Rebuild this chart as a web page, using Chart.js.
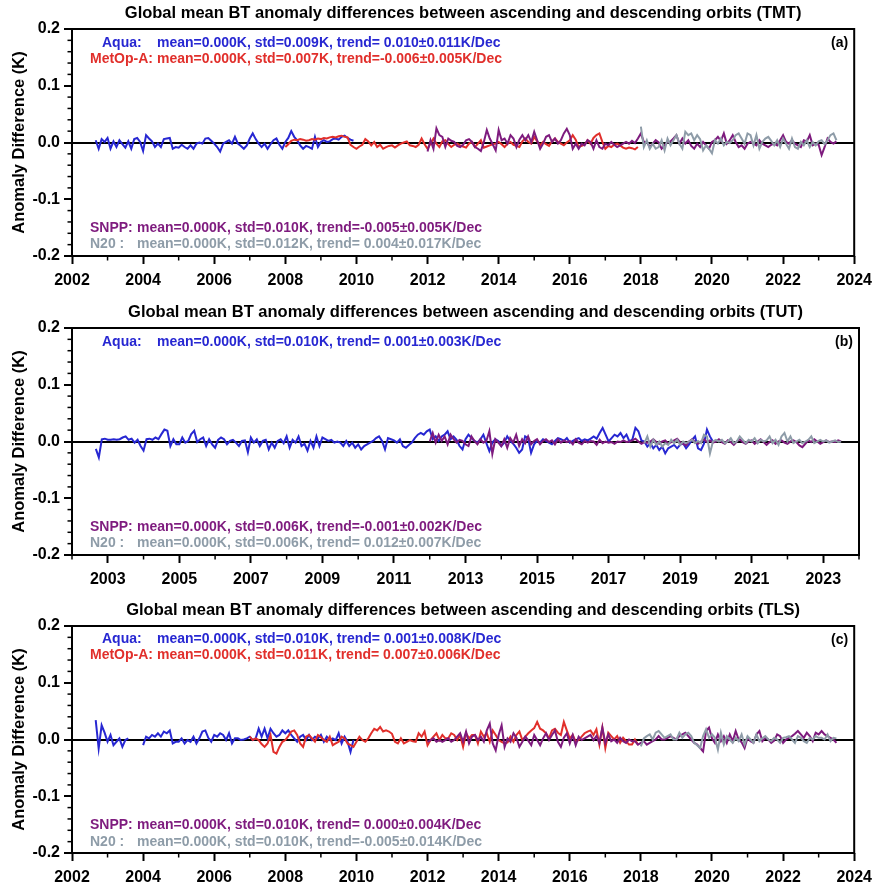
<!DOCTYPE html>
<html><head><meta charset="utf-8">
<script src="https://cdn.jsdelivr.net/npm/chart.js@4.4.1/dist/chart.umd.min.js"></script>
<style>
html,body{margin:0;padding:0;background:#fff;overflow:hidden;width:879px;height:886px}
.p{position:absolute;left:0;width:879px;height:289px}
</style></head><body>
<div class="p" style="top:0"><canvas id="ca" width="879" height="289"></canvas></div>
<div class="p" style="top:299px"><canvas id="cb" width="879" height="289"></canvas></div>
<div class="p" style="top:597px"><canvas id="cc" width="879" height="289"></canvas></div>
<script>
// ---- tick labels / axis ----
const xTicksEven = [2002,2004,2006,2008,2010,2012,2014,2016,2018,2020,2022,2024];
const xTicksOdd  = [2003,2005,2007,2009,2011,2013,2015,2017,2019,2021,2023];
const xMinorEvenEdges = [2002,2004,2006,2008,2010,2012,2014,2016,2018,2020,2022,2024];
const yTicks = [-0.2,-0.1,0,0.1,0.2];
const yMinor = [-0.18,-0.16,-0.14,-0.12,-0.08,-0.06,-0.04,-0.02,0.02,0.04,0.06,0.08,0.12,0.14,0.16,0.18];

// ---- series values, monthly, in milli-Kelvin (1 mK = 0.001 K) ----
// Panel (a) TMT
const aquaTMTStart = [2002, 9];
const aquaTMT = [4,-11,6,1,8,-11,2,-8,4,-3, -9,2,-11,6,8,1,-15,13,7,2, -8,-2,-8,6,7,8,-11,-8,-9,-4, -8,-11,-5,-11,-2,0,-2,7,8,3, -2,-8,-16,-2,1,4,-2,10,-2,-6, -11,-5,7,16,6,-2,-8,-2,-11,-3, 4,7,-4,-11,1,8,20,10,4,-5, -11,-6,-8,-11,10,-8,1,4,1, 2,6,7,5, 10,12,8,5,3];
const metopTMTStart = [2008, 1];
const metopTMT = [-8,-3,3,5,4,6,5,3,4,6,5,7, 6,8,7,9,10,9,11,12,10,9,-4,-8, -11,-7,-4,6,2,-5,1,-8,-4,-11,-8,-6, -5,-9,-5,-2,0,2,-5,-6,-8,-4,7,-3, -11,-2,7,-2,-8,2,4,-3,-8,-4,-2,-5, -7,-9,-2,1,-8,-2,4,-9,-7,-5,-3,-2, 1,-3,-8,-2,1,-4,-6,-8,2,7,1,-2, 10,2,-5,1,-3,-6,2,7,1,-2,-5,0, 4,13,5,-8,-6,-4,4,-2,8,13,16,1, -11,-6,-8,-4,-2,-5,-9,-11,-9,-10,-12,-8];
const snppTMTStart = [2012, 1];
const snppTMT = [-16,4,-11,25,13,10,-8,7,3,1,-6,-8, -4,4,6,1,-8,-11,-15,1,22,7,-3,-14, 22,4,7,-2,13,7,-8,5,13,4,13,1, 19,4,-11,-2,10,13,1,7,-2,4,16,24, 13,-11,-2,-11,-2,-5,4,1,-11,4,-8,-11, -2,-5,1,-4,-8,-5,-2,1,-2,3,-1,7, 16,1,1,-8,-2,4,0,-11,-5,1,2,7, 13,-2,7,-2,4,-6,-11,-2,-8,1,-5,-11, 1,4,10,3,16,-2,4,13,1,-8,-5,-11, -2,1,-2,-5,4,-2,-5,-8,-4,-2,-5,4, 13,1,-2,4,-2,-5,-8,4,2,13,-5,-2, -4,-22,-8,7,1,-2,2];
const n20TMTStart = [2018, 1];
const n20TMT = [28,-8,4,-11,-2,-11,-8,4,-14,7,-5,4, 13,-2,-11,19,13,16,4,13,6,-14,-5,-11, -19,4,-2,7,-5,1,-1,4,13,16,7,-2, 16,13,-5,13,-11,1,7,10,3,-5,4,-8, 7,-2,-11,7,-8,-11,1,-5,4,-8,1,-5, 2,4,-3,4,13,16,4];

// Panel (b) TUT
const aquaTUTStart = [2002, 9];
const aquaTUT = [-13,-28,4,5, 3,3,4,3,4,7,9,3,5,-2,3,-8, -16,4,5,3,7,4,13,21,19,-8,4,-5, -5,7,-2,1,13,19,-1,4,7,-8,4,-5, -11,3,7,4,-5,1,3,-2,-8,1,2,-19, 7,-2,4,-8,1,3,-14,-2,-11,1,4,-3, 9,-11,3,-2,9,-8,-4,-16,1,-11,9,-8, 7,4,1,3,-2,0,-2,-8,1,-8,-2,-11, -5,-14,-8,-5,-2,1,6,9,1,-14,6,4, 2,-2,4,-8,-11,-6,-2,6,12,15,12,18, 21,4,9,1,9,12,18,4,9,3,-8,-14, 4,12,6,1,-2,4,12,-3,-17,-2,4,1, -8,-2,9,1,-4,-11,-20,-14,9,6,-20,-5, 1,-2,4,1,-2,-5,1,6,4,1,6,-2, 1,4,6,1,4,2,5,9,5,15,24,12, 0,6,12,9,15,6,12,0,4,24,18,2, 0,-9,-3,-12,-6,-15,-9,-21,-12,-9,-6,-12, -6,-3,-12,-5,3,9,-12,-15,-4,21,9,0];
const snppTUTStart = [2012, 1];
const snppTUT = [0,15,-2,12,1,9,-5,12,4,-2,3,1, -5,-8,9,1,-5,4,-2,1,18,-22,4,-2, -8,4,-11,6,-2,12,-8,4,-3,9,-5,1, 4,-5,1,4,-1,2,-5,4,-2,2,-1,1, -5,4,-2,-5,1,-2,1,0,-6,3,-3,0, -2,-1,-4,0,-1,2,-1,0,2,5,0,-4, -1,-2,0,4,-1,-4,0,2,-4,-1,2,5, -1,-4,-7,0,4,-1,-4,0,4,-1,2,-2, 0,4,-1,-4,2,-1,-6,0,4,-1,-4,0, 2,-4,0,4,-1,-6,-1,2,-4,0,2,-2, -4,0,2,-1,-7,-10,-4,2,-1,4,0,-4, -1,2,-1,0,-1,2,0];
const n20TUTStart = [2018, 1];
const n20TUT = [-3,9,-9,3,-6,0,-9,-3,-6,3,-3,3, -6,0,-3,0,3,-3,1,-3,12,9,-21,0, 3,0,3,-3,0,6,-3,0,9,3,-3,3, 0,6,-3,3,0,2,9,-3,3,-6,9,15, 0,9,-3,0,3,-3,0,3,9,-3,0,3, 0,2,-2,0,2,-1,0];

// Panel (c) TLS
const aquaTLSStart = [2002, 9];
const aquaTLS = [34,-16,25,12, -4,8,-10,-4,2,-13,-1,2,null,null,null,null, -10,5,2,8,5,11,5,14,11,16,-7,-4, -4,2,-7,-1,-4,5,-7,2,14,16,3,-4, 8,5,11,8,-1,11,-7,2,2,-1,0,2, 5,-1,2,19,5,19,2,19,11,5,8,16, 11,16,8,2,-4,5,8,-1,8,-1,5,2, 8,-4,5,-1,2,-1,11,-7,5,-4,-22,-1];
const metopTLSStart = [2007, 1];
const metopTLS = [5,-1,2,-1,-8,-13,-7,8,-22,-25,-13,-4, -1,6,14,16,8,-7,-13,5,8,2,-4,8, 4,-1,-4,5,-10,-7,-4,5,2,-7,-10,-13, -4,5,-1,-4,2,11,19,16,22,14,16,14, 10,-4,-7,2,-7,-4,-1,-3,-4,11,5,14, -10,-1,5,11,-1,8,2,2,11,8,-1,8, -13,11,2,8,8,-7,14,5,11,-4,16,8, -1,-4,-7,-5,5,-4,8,14,-1,5,11,16, 20,31,19,16,11,2,16,19,12,8,31,16, 2,8,-4,-1,5,11,14,16,8,18,-9,21, -15,12,6,0,6,-6,3,-3,-9,-9,0,-9];
const snppTLSStart = [2012, 1];
const snppTLS = [-4,-1,2,-4,-1,-4,-1,2,-4,-1,5,11, -4,14,-7,5,8,-1,5,-4,16,28,-7,-19, 8,25,-13,2,-4,11,3,-13,-4,5,-2,-10, 8,-1,-10,2,11,-1,8,16,-4,-13,3,11, -7,8,-10,5,-1,2,5,8,-1,6,-6,21, -6,9,-3,0,-6,3,-3,-6,0,-3,-3,-9, -6,-3,-9,-6,-3,0,6,0,0,3,6,3, 0,6,9,12,6,0,-6,-9,-15,-21,15,21, 2,-6,9,-3,6,-6,9,-3,15,0,-5,-15, 3,-3,-6,9,15,-3,3,0,-6,-2,9,6, -6,0,3,6,10,15,9,3,12,6,-3,12, 9,15,9,6,3,0,-6];
const n20TLSStart = [2018, 1];
const n20TLS = [-12,2,6,9,0,12,15,9,3,6,9,0, 0,12,3,9,12,6,-6,-10,-15,6,18,3, 9,3,-18,12,-9,6,0,-6,3,-3,9,-9, 6,0,-6,9,-3,2,6,0,-3,3,0,-6, 3,4,6,0,-6,6,3,-3,-6,3,0,6, 3,3,0,9,-3,3,2];

// ---- styles ----
const F = "'Liberation Sans', Arial, Helvetica, sans-serif";
const BLUE = '#2727d2', RED = '#e12f2b', PURPLE = '#7e1b7e', GRAY = '#8e9ca8';

function toPoints(start, vals) {
  return vals.map((v, i) => ({ x: start[0] + (start[1] - 1 + i) / 12, y: v === null ? null : v / 1000 }));
}

function makeDeco(cfg) {
  return {
    id: 'deco',
    afterDraw(chart) {
      const ctx = chart.ctx, a = chart.chartArea, xs = chart.scales.x, ys = chart.scales.y;
      ctx.save();
      ctx.strokeStyle = '#000';
      ctx.lineWidth = 1.5;
      cfg.minorX.forEach(v => {
        const px = xs.getPixelForValue(v);
        ctx.beginPath(); ctx.moveTo(px, a.bottom); ctx.lineTo(px, a.bottom + 4.5); ctx.stroke();
      });
      yMinor.forEach(v => {
        const py = ys.getPixelForValue(v);
        ctx.beginPath(); ctx.moveTo(a.left, py); ctx.lineTo(a.left - 4.5, py); ctx.stroke();
      });
      ctx.lineWidth = 2;
      ctx.strokeRect(a.left, a.top, a.right - a.left, a.bottom - a.top);
      ctx.fillStyle = '#000';
      ctx.textBaseline = 'middle';
      ctx.textAlign = 'center';
      ctx.font = 'bold 16.5px ' + F;
      ctx.fillText(cfg.title, (a.left + a.right) / 2, a.top - 16);
      ctx.save();
      ctx.translate(19, (a.top + a.bottom) / 2);
      ctx.rotate(-Math.PI / 2);
      ctx.fillText('Anomaly Difference (K)', 0, 0);
      ctx.restore();
      ctx.font = 'bold 14px ' + F;
      ctx.textAlign = 'right';
      ctx.fillText(cfg.tag, a.right - 6, a.top + 14);
      ctx.textAlign = 'left';
      cfg.notes.forEach(n => {
        ctx.fillStyle = n.color;
        const yy = n.top != null ? a.top + n.top : a.bottom - n.bottom;
        ctx.fillText(n.label, n.lx, yy);
        ctx.fillText(n.body, n.bx, yy);
      });
      ctx.restore();
    }
  };
}

function makePanel(id, cfg) {
  const datasets = cfg.series.map(s => ({
    label: s.name,
    data: toPoints(s.start, s.values),
    borderColor: s.color,
    borderWidth: 2,
    pointRadius: 0,
    fill: false,
    tension: 0,
    spanGaps: false,
    order: s.order
  }));
  new Chart(document.getElementById(id), {
    type: 'line',
    data: { datasets },
    options: {
      responsive: false,
      animation: false,
      devicePixelRatio: 1,
      events: [],
      parsing: false,
      layout: { padding: { top: 29, right: 20, left: 0, bottom: 0 } },
      plugins: { legend: { display: false }, tooltip: { enabled: false }, title: { display: false } },
      scales: {
        x: {
          type: 'linear', min: 2002, max: 2024,
          afterBuildTicks: sc => { sc.ticks = cfg.majorX.map(v => ({ value: v })); },
          afterFit: sc => { sc.height = 33; },
          grid: { drawOnChartArea: false, drawTicks: true, tickLength: 8, tickWidth: 2, tickColor: '#000' },
          border: { display: false },
          ticks: { font: { family: F, size: 16, weight: 'bold' }, color: '#000', padding: 7, maxRotation: 0, autoSkip: false, callback: v => String(v) }
        },
        y: {
          type: 'linear', min: -0.2, max: 0.2,
          afterBuildTicks: sc => { sc.ticks = yTicks.map(v => ({ value: v })); },
          afterFit: sc => { sc.width = 72; },
          grid: {
            drawOnChartArea: true,
            color: c => (c.tick && Math.abs(c.tick.value) < 1e-9) ? '#000' : 'rgba(0,0,0,0)',
            lineWidth: 2, tickLength: 8, tickWidth: 2, tickColor: '#000'
          },
          border: { display: false },
          ticks: { font: { family: F, size: 16, weight: 'bold' }, color: '#000', padding: 4, callback: v => Number(v).toFixed(1) }
        }
      }
    },
    plugins: [makeDeco(cfg)]
  });
}

makePanel('ca', {
  title: 'Global mean BT anomaly differences between ascending and descending orbits (TMT)',
  tag: '(a)', majorX: xTicksEven, minorX: xTicksOdd,
  series: [
    { name: 'N20', start: n20TMTStart, values: n20TMT, color: GRAY, order: 0 },
    { name: 'SNPP', start: snppTMTStart, values: snppTMT, color: PURPLE, order: 1 },
    { name: 'MetOp-A', start: metopTMTStart, values: metopTMT, color: RED, order: 2 },
    { name: 'Aqua', start: aquaTMTStart, values: aquaTMT, color: BLUE, order: 3 }
  ],
  notes: [
    { label: 'Aqua:', body: 'mean=0.000K, std=0.009K, trend= 0.010\u00b10.011K/Dec', color: BLUE, lx: 102, bx: 157, top: 14 },
    { label: 'MetOp-A:', body: 'mean=0.000K, std=0.007K, trend=-0.006\u00b10.005K/Dec', color: RED, lx: 90, bx: 157, top: 30 },
    { label: 'SNPP:', body: 'mean=0.000K, std=0.010K, trend=-0.005\u00b10.005K/Dec', color: PURPLE, lx: 90, bx: 137, bottom: 28 },
    { label: 'N20 :', body: 'mean=0.000K, std=0.012K, trend= 0.004\u00b10.017K/Dec', color: GRAY, lx: 90, bx: 137, bottom: 12 }
  ]
});

makePanel('cb', {
  title: 'Global mean BT anomaly differences between ascending and descending orbits (TUT)',
  tag: '(b)', majorX: xTicksOdd, minorX: xMinorEvenEdges,
  series: [
    { name: 'N20', start: n20TUTStart, values: n20TUT, color: GRAY, order: 0 },
    { name: 'SNPP', start: snppTUTStart, values: snppTUT, color: PURPLE, order: 1 },
    { name: 'Aqua', start: aquaTUTStart, values: aquaTUT, color: BLUE, order: 3 }
  ],
  notes: [
    { label: 'Aqua:', body: 'mean=0.000K, std=0.010K, trend= 0.001\u00b10.003K/Dec', color: BLUE, lx: 102, bx: 157, top: 14 },
    { label: 'SNPP:', body: 'mean=0.000K, std=0.006K, trend=-0.001\u00b10.002K/Dec', color: PURPLE, lx: 90, bx: 137, bottom: 28 },
    { label: 'N20 :', body: 'mean=0.000K, std=0.006K, trend= 0.012\u00b10.007K/Dec', color: GRAY, lx: 90, bx: 137, bottom: 12 }
  ]
});

makePanel('cc', {
  title: 'Global mean BT anomaly differences between ascending and descending orbits (TLS)',
  tag: '(c)', majorX: xTicksEven, minorX: xTicksOdd,
  series: [
    { name: 'N20', start: n20TLSStart, values: n20TLS, color: GRAY, order: 0 },
    { name: 'SNPP', start: snppTLSStart, values: snppTLS, color: PURPLE, order: 1 },
    { name: 'MetOp-A', start: metopTLSStart, values: metopTLS, color: RED, order: 2 },
    { name: 'Aqua', start: aquaTLSStart, values: aquaTLS, color: BLUE, order: 3 }
  ],
  notes: [
    { label: 'Aqua:', body: 'mean=0.000K, std=0.010K, trend= 0.001\u00b10.008K/Dec', color: BLUE, lx: 102, bx: 157, top: 13 },
    { label: 'MetOp-A:', body: 'mean=0.000K, std=0.011K, trend= 0.007\u00b10.006K/Dec', color: RED, lx: 90, bx: 157, top: 29 },
    { label: 'SNPP:', body: 'mean=0.000K, std=0.010K, trend= 0.000\u00b10.004K/Dec', color: PURPLE, lx: 90, bx: 137, bottom: 28 },
    { label: 'N20 :', body: 'mean=0.000K, std=0.010K, trend=-0.005\u00b10.014K/Dec', color: GRAY, lx: 90, bx: 137, bottom: 11 }
  ]
});
</script>
</body></html>
